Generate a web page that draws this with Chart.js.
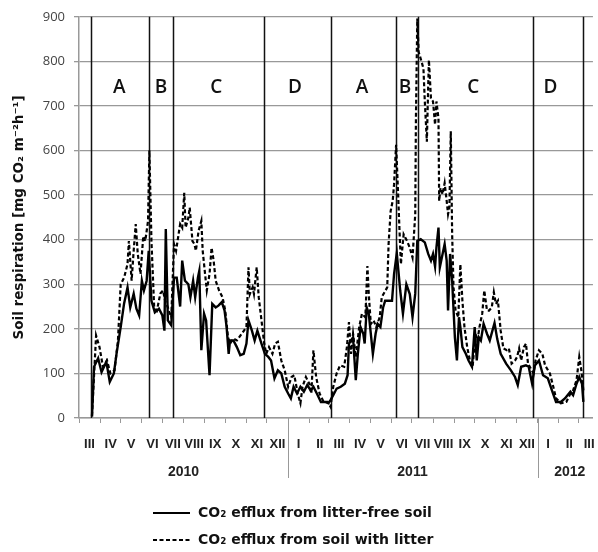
<!DOCTYPE html>
<html>
<head>
<meta charset="utf-8">
<script src="https://cdn.jsdelivr.net/npm/chart.js@4.4.1/dist/chart.umd.min.js"></script>
<style>
  body { margin: 0; background: #fff; }
  #wrap { width: 598px; height: 552px; }
</style>
</head>
<body>
<div id="wrap"><canvas id="respChart"></canvas></div>
<script>
// x values = days since 1 March 2010

// month ticks (first day of each month) and their labels
const monthStarts = [0, 31, 61, 92, 122, 153, 184, 214, 245, 275, 306, 337, 365, 396, 426, 457, 487, 518, 549, 579, 610, 640, 671, 702, 731];
const monthLabels = ['III', 'IV', 'V', 'VI', 'VII', 'VIII', 'IX', 'X', 'XI', 'XII', 'I', 'II', 'III', 'IV', 'V', 'VI', 'VII', 'VIII', 'IX', 'X', 'XI', 'XII', 'I', 'II', 'III'];
const yearLabels = ['2010', '2011', '2012'];
const yearCenters = [153, 488, 718];
const yearStarts = [306, 671];

// period borders and letters
const periodBounds = [17, 102, 138, 271, 369, 464, 496, 664, 738];
const periodLetters = ['A', 'B', 'C', 'D', 'A', 'B', 'C', 'D'];
const letterDays = [59, 120, 201, 316, 414, 477, 577, 690];
const letterLevel = 742;

// CO2 efflux from litter-free soil
const daysFree = [
  19, 22, 28, 33, 40, 45, 51, 55, 61, 66,
  71, 75, 80, 84, 88, 92, 95, 99, 102, 106,
  111, 117, 122, 125, 127, 130, 135, 139, 143, 148,
  151, 155, 160, 163, 167, 170, 174, 176, 179, 183,
  186, 191, 195, 200, 204, 209, 213, 216, 219, 221,
  226, 231, 236, 241, 245, 248, 253, 257, 261, 267,
  272, 277, 281, 286, 291, 296, 301, 306, 310, 314,
  319, 324, 329, 334, 339, 343, 348, 354, 360, 365,
  368, 372, 377, 383, 389, 393, 395, 398, 401, 405,
  408, 412, 416, 418, 421, 424, 426, 430, 434, 437,
  441, 445, 448, 453, 458, 461, 465, 470, 474, 479,
  484, 488, 492, 495, 500, 506, 511, 515, 518, 521,
  523, 526, 528, 532, 535, 538, 540, 543, 546, 550,
  553, 556, 558, 561, 566, 570, 575, 579, 582, 585,
  588, 592, 597, 601, 608, 612, 617, 625, 632, 638,
  642, 647, 654, 658, 663, 667, 673, 679, 686, 692,
  698, 705, 711, 719, 723, 728, 732, 736, 738
];
const litterFree = [
  3, 115, 134, 103, 126, 81, 100, 145, 204, 257,
  293, 248, 279, 245, 230, 308, 286, 308, 375, 263,
  237, 245, 230, 196, 424, 219, 208, 315, 315, 250,
  353, 308, 300, 271, 308, 271, 315, 330, 152, 234,
  219, 96, 256, 248, 252, 260, 241, 204, 144, 174,
  174, 159, 141, 144, 167, 219, 196, 174, 196, 167,
  144, 137, 129, 89, 107, 100, 70, 55, 44, 70,
  55, 70, 59, 74, 62, 70, 55, 36, 36, 33,
  40, 51, 66, 70, 77, 96, 167, 174, 181, 85,
  144, 204, 189, 167, 248, 234, 204, 144, 189, 211,
  204, 248, 263, 263, 263, 323, 370, 286, 234, 300,
  278, 226, 279, 397, 401, 394, 368, 353, 368, 340,
  382, 427, 338, 368, 390, 353, 241, 368, 308, 181,
  129, 226, 204, 159, 144, 129, 115, 204, 129, 181,
  174, 211, 189, 174, 213, 177, 144, 122, 107, 92,
  74, 115, 118, 115, 77, 118, 129, 96, 89, 62,
  36, 36, 44, 59, 51, 77, 92, 77, 36
];

// CO2 efflux from soil with litter
const daysLitter = [
  19, 25, 30, 35, 41, 46, 52, 57, 61, 66,
  71, 73, 77, 80, 83, 86, 90, 94, 97, 101,
  103, 106, 110, 114, 119, 123, 126, 130, 135, 139,
  142, 148, 151, 154, 156, 160, 162, 166, 169, 171,
  175, 179, 181, 184, 187, 191, 194, 197, 200, 205,
  210, 214, 218, 221, 226, 231, 238, 245, 248, 250,
  254, 256, 260, 263, 267, 271, 274, 278, 283, 287,
  291, 296, 301, 306, 311, 315, 320, 324, 327, 332,
  337, 340, 343, 347, 352, 358, 364, 368, 372, 377,
  382, 388, 392, 395, 398, 401, 405, 410, 414, 419,
  422, 424, 427, 431, 435, 440, 443, 447, 451, 453,
  456, 459, 461, 464, 467, 469, 471, 475, 480, 484,
  488, 492, 493, 495, 497, 500, 504, 506, 509, 511,
  512, 515, 518, 521, 523, 526, 527, 529, 532, 535,
  538, 540, 542, 544, 546, 548, 551, 555, 558, 561,
  564, 568, 572, 576, 580, 583, 586, 590, 593, 597,
  600, 604, 607, 610, 613, 617, 621, 626, 629, 633,
  638, 641, 644, 647, 651, 654, 657, 661, 665, 668,
  673, 678, 682, 689, 694, 698, 705, 713, 719, 723,
  728, 732, 735, 738
];
const withLitter = [
  5, 185, 159, 115, 129, 100, 107, 174, 300, 315,
  345, 397, 308, 375, 435, 368, 323, 408, 397, 442,
  600, 397, 248, 241, 279, 286, 263, 248, 226, 390,
  375, 435, 427, 505, 427, 449, 472, 397, 390, 375,
  420, 442, 375, 330, 286, 323, 382, 353, 308, 286,
  271, 241, 181, 167, 178, 174, 189, 204, 338, 278,
  293, 278, 338, 271, 219, 167, 144, 159, 144, 167,
  171, 129, 107, 70, 92, 96, 55, 33, 70, 92,
  77, 55, 152, 92, 55, 36, 36, 25, 70, 100,
  118, 115, 159, 215, 144, 189, 137, 204, 234, 226,
  341, 278, 211, 219, 204, 226, 271, 282, 293, 390,
  464, 487, 524, 613, 500, 420, 345, 412, 397, 382,
  360, 457, 672, 896, 821, 806, 784, 710, 620, 747,
  803, 717, 710, 658, 710, 672, 487, 516, 502, 527,
  487, 457, 472, 643, 412, 293, 241, 226, 345, 263,
  204, 159, 129, 115, 189, 174, 204, 234, 286, 241,
  241, 248, 282, 256, 263, 196, 156, 152, 156, 122,
  129, 137, 156, 129, 159, 167, 122, 111, 100, 129,
  152, 144, 118, 100, 70, 44, 33, 36, 55, 62,
  85, 137, 107, 62
];

const seriesNames = ['CO\u2082 efflux from litter-free soil', 'CO\u2082 efflux from soil with litter'];

function toPoints(days, values) {
  return days.map((d, i) => ({ x: d, y: values[i] }));
}

// vertical period lines, A-D letters and the year separators
const periodMarks = {
  id: 'periodMarks',
  beforeDatasetsDraw(chart) {
    const { ctx, chartArea } = chart;
    const x = chart.scales.x;
    const y = chart.scales.y;
    const yr = chart.scales.xYear;
    ctx.save();
    ctx.strokeStyle = '#111';
    ctx.lineWidth = 1.5;
    periodBounds.forEach(d => {
      const px = Math.round(x.getPixelForValue(d)) + 0.5;
      ctx.beginPath();
      ctx.moveTo(px, chartArea.top);
      ctx.lineTo(px, chartArea.bottom);
      ctx.stroke();
    });
    ctx.strokeStyle = '#999';
    ctx.lineWidth = 1;
    yearStarts.forEach(d => {
      const px = Math.round(x.getPixelForValue(d)) + 0.5;
      ctx.beginPath();
      ctx.moveTo(px, chartArea.bottom);
      ctx.lineTo(px, yr.bottom);
      ctx.stroke();
    });
    ctx.fillStyle = '#111';
    ctx.font = '600 19px "Open Sans"';
    ctx.textAlign = 'center';
    ctx.textBaseline = 'middle';
    periodLetters.forEach((t, i) => {
      ctx.fillText(t, x.getPixelForValue(letterDays[i]), y.getPixelForValue(letterLevel));
    });
    ctx.restore();
  }
};

// legend in two rows under the axis
const legendRows = {
  id: 'legendRows',
  afterDraw(chart) {
    const { ctx } = chart;
    const rowsY = [513, 540];
    ctx.save();
    ctx.font = 'bold 14px "DejaVu Sans"';
    ctx.textBaseline = 'middle';
    ctx.fillStyle = '#111';
    chart.data.datasets.forEach((ds, i) => {
      ctx.strokeStyle = ds.borderColor;
      ctx.lineWidth = 2;
      ctx.setLineDash(ds.borderDash || []);
      ctx.beginPath();
      ctx.moveTo(153, rowsY[i]);
      ctx.lineTo(190, rowsY[i]);
      ctx.stroke();
      ctx.fillText(ds.label, 198, rowsY[i]);
    });
    ctx.restore();
  }
};

Chart.defaults.font.family = '"Liberation Sans", Arial, sans-serif';
Chart.defaults.color = '#222';

const ctx = document.getElementById('respChart').getContext('2d');
const respChart = new Chart(ctx, {
  type: 'line',
  data: {
    datasets: [{
      label: seriesNames[0],
      data: toPoints(daysFree, litterFree),
      borderColor: '#000',
      borderWidth: 2.4,
      pointRadius: 0,
      tension: 0,
      fill: false
    }, {
      label: seriesNames[1],
      data: toPoints(daysLitter, withLitter),
      borderColor: '#000',
      borderWidth: 2.2,
      borderDash: [4, 2.5],
      pointRadius: 0,
      tension: 0,
      fill: false
    }]
  },
  options: {
    responsive: true,
    maintainAspectRatio: false,
    animation: false,
    layout: { padding: { top: 15, right: 0, bottom: 74, left: 0 } },
    plugins: {
      legend: { display: false },
      tooltip: { enabled: false }
    },
    scales: {
      x: {
        type: 'linear',
        position: 'bottom',
        min: 0,
        max: 752,
        afterBuildTicks: axis => { axis.ticks = monthStarts.map(v => ({ value: v })); },
        afterFit: axis => { axis.height = 35; },
        grid: { drawOnChartArea: false, color: '#999', tickLength: 5 },
        border: { color: '#999', width: 1.5 },
        ticks: {
          autoSkip: false,
          maxRotation: 0,
          labelOffset: 10.5,
          padding: 14,
          color: '#222',
          font: { size: 13, weight: 'bold' },
          callback: (v, i) => monthLabels[i]
        }
      },
      xYear: {
        type: 'linear',
        position: 'bottom',
        min: 0,
        max: 752,
        afterBuildTicks: axis => { axis.ticks = yearCenters.map(v => ({ value: v })); },
        afterFit: axis => { axis.height = 25; },
        grid: { display: false },
        border: { display: false },
        ticks: {
          autoSkip: false,
          maxRotation: 0,
          padding: 3,
          color: '#222',
          font: { size: 14, weight: 'bold' },
          callback: (v, i) => yearLabels[i]
        }
      },
      y: {
        min: 0,
        max: 900,
        afterFit: axis => { axis.width = 79; },
        grid: { color: '#999', lineWidth: 1.3, tickLength: 5 },
        border: { color: '#999', width: 1.5 },
        ticks: {
          stepSize: 100,
          padding: 9,
          color: '#444',
          font: { family: '"Open Sans"', size: 13 }
        },
        title: {
          display: true,
          text: 'Soil respiration [mg CO\u2082 m\u207B\u00B2h\u207B\u00B9]',
          color: '#111',
          font: { family: '"DejaVu Sans"', size: 13.5, weight: 'bold' },
          padding: { top: 11, bottom: 0 }
        }
      }
    }
  },
  plugins: [periodMarks, legendRows]
});
</script>
</body>
</html>
